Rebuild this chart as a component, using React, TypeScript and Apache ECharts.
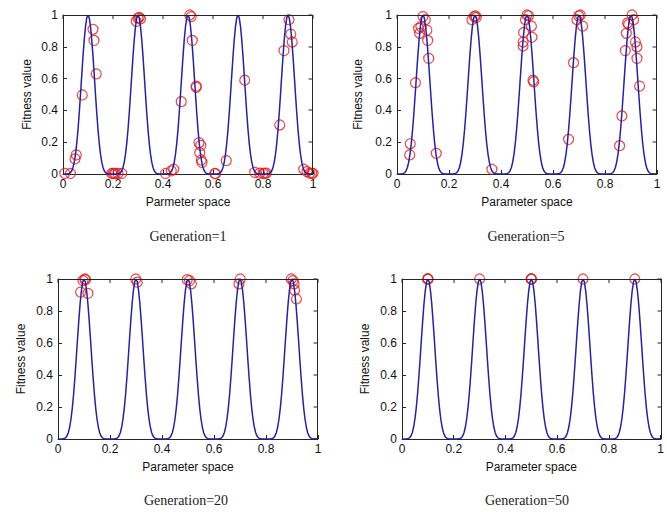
import React, { useEffect, useRef } from "react";
import * as echarts from "echarts";

// Half-peak profile of the fitness curve, x = 0, 0.005, ..., 0.1 (read from the peaks)
const HALF_PEAK = [
  0, 0, 0.00001, 0.00016, 0.00087, 0.0031, 0.0088, 0.0203, 0.0412, 0.075, 0.125,
  0.193, 0.280, 0.384, 0.500, 0.622, 0.740, 0.845, 0.928, 0.982, 1,
];
const PEAK_STARTS = [0, 0.2, 0.4, 0.6, 0.8];
const STEP = 0.005;

const TITLES = ["Generation=1", "Generation=5", "Generation=20", "Generation=50"];
const X_NAMES = ["Parmeter space", "Parameter space", "Parameter space", "Parameter space"];
const Y_NAME = "Fitness value";
const TICKS = [0, 0.2, 0.4, 0.6, 0.8, 1];

// population positions [x, fitness]
const GEN1: number[][] = [
  [0.007, 0.004], [0.03, 0.003], [0.053, 0.12], [0.048, 0.095], [0.077, 0.497],
  [0.12, 0.91], [0.124, 0.84], [0.133, 0.63],
  [0.195, 0.003], [0.2, 0.003], [0.205, 0.003], [0.21, 0.003], [0.22, 0.003], [0.235, 0.003],
  [0.293, 0.96], [0.3, 0.98], [0.305, 0.985], [0.31, 0.975],
  [0.41, 0.003], [0.433, 0.02], [0.443, 0.03], [0.473, 0.455],
  [0.507, 1.0], [0.513, 0.99], [0.517, 0.84], [0.533, 0.553], [0.533, 0.545],
  [0.544, 0.197], [0.551, 0.18], [0.547, 0.134], [0.553, 0.088], [0.556, 0.073],
  [0.607, 0.003], [0.61, 0.002], [0.653, 0.084], [0.727, 0.59],
  [0.767, 0.01], [0.787, 0.005], [0.8, 0.003], [0.807, 0.004], [0.813, 0.006],
  [0.867, 0.308], [0.884, 0.776], [0.904, 0.97], [0.911, 0.88], [0.917, 0.83],
  [0.963, 0.03], [0.976, 0.015], [0.987, 0.005], [0.995, 0.004], [1.0, 0.004],
];
const GEN5: number[][] = [
  [0.049, 0.12], [0.051, 0.19], [0.071, 0.574], [0.087, 0.885], [0.083, 0.916], [0.092, 0.927],
  [0.1, 0.99], [0.109, 0.97], [0.115, 0.905], [0.118, 0.84], [0.122, 0.727], [0.151, 0.13],
  [0.288, 0.97], [0.297, 0.99], [0.305, 0.985], [0.301, 0.995], [0.365, 0.03],
  [0.485, 0.805], [0.485, 0.83], [0.487, 0.89], [0.494, 0.97], [0.5, 1.0], [0.506, 0.995],
  [0.517, 0.93], [0.519, 0.86], [0.523, 0.59], [0.526, 0.58],
  [0.66, 0.218], [0.679, 0.7], [0.692, 0.97], [0.699, 0.994], [0.705, 1.0], [0.714, 0.93],
  [0.856, 0.178], [0.865, 0.365], [0.878, 0.776], [0.882, 0.885], [0.887, 0.95], [0.891, 0.94],
  [0.904, 1.0], [0.91, 0.97], [0.917, 0.83], [0.923, 0.8], [0.923, 0.727], [0.933, 0.553],
];
const GEN20: number[][] = [
  [0.087, 0.918], [0.096, 0.99], [0.103, 1.0], [0.106, 0.996], [0.115, 0.91],
  [0.299, 1.0], [0.305, 0.98],
  [0.497, 0.996], [0.506, 0.99], [0.513, 0.97],
  [0.696, 0.97], [0.701, 1.0],
  [0.897, 1.0], [0.904, 0.99], [0.908, 0.97], [0.91, 0.93], [0.917, 0.875],
];
const GEN50: number[][] = [
  [0.099, 1.0], [0.1, 1.0], [0.101, 1.0], [0.3, 1.0],
  [0.499, 1.0], [0.5, 1.0], [0.501, 1.0], [0.7, 1.0], [0.9, 1.0],
];
const POPULATIONS = [GEN1, GEN5, GEN20, GEN50];

const GRIDS = [
  { left: 63, top: 15, width: 250, height: 159 },
  { left: 397, top: 15, width: 260, height: 159 },
  { left: 58, top: 279, width: 260, height: 160 },
  { left: 402, top: 279, width: 260, height: 160 },
];
const Y_NAME_GAPS = [30, 33, 31, 31];
const TITLE_POS = [
  [188, 236],
  [526, 236],
  [186, 500],
  [527, 500],
];

function buildCurve(): number[][] {
  const pts: number[][] = [];
  PEAK_STARTS.forEach((start, k) => {
    const n = HALF_PEAK.length - 1;
    for (let i = k === 0 ? 0 : 1; i <= 2 * n; i++) {
      const y = i <= n ? HALF_PEAK[i] : HALF_PEAK[2 * n - i];
      pts.push([+(start + i * STEP).toFixed(4), y]);
    }
  });
  return pts;
}

const FONT = "Liberation Sans, Arial, sans-serif";
const AXIS_COLOR = "#262626";

export default function App() {
  const ref = useRef<HTMLDivElement>(null);
  useEffect(() => {
    if (!ref.current) return;
    const chart = echarts.init(ref.current, undefined, { renderer: "svg" });
    const curve = buildCurve();
    const xAxis: any[] = [];
    const yAxis: any[] = [];
    const series: any[] = [];
    GRIDS.forEach((g, i) => {
      const common = () => ({
        type: "value",
        min: 0,
        max: 1,
        interval: 0.2,
        gridIndex: i,
        splitLine: { show: false },
        axisLine: { show: true, onZero: false, lineStyle: { color: AXIS_COLOR, width: 1 } },
        axisTick: { show: true, inside: true, length: 4, lineStyle: { color: AXIS_COLOR } },
      });
      xAxis.push({
        ...common(),
        position: "bottom",
        axisLabel: { color: "#111", fontSize: 12, fontFamily: FONT, margin: 4 },
        name: X_NAMES[i],
        nameLocation: "middle",
        nameGap: 22,
        nameTextStyle: { color: "#111", fontSize: 12, fontFamily: FONT },
      });
      yAxis.push({
        ...common(),
        position: "left",
        axisLabel: { color: "#111", fontSize: 12, fontFamily: FONT, margin: 5 },
        name: Y_NAME,
        nameLocation: "middle",
        nameGap: Y_NAME_GAPS[i],
        nameTextStyle: { color: "#111", fontSize: 12, fontFamily: FONT },
      });
      series.push({
        type: "line",
        xAxisIndex: i,
        yAxisIndex: i,
        data: curve,
        showSymbol: false,
        symbol: "none",
        lineStyle: { color: "#2222aa", width: 1.5 },
        silent: true,
      });
      series.push({
        type: "scatter",
        xAxisIndex: i,
        yAxisIndex: i,
        data: POPULATIONS[i],
        symbol: "circle",
        symbolSize: 10,
        clip: false,
        itemStyle: { color: "rgba(0,0,0,0)", borderColor: "#e41c1c", borderWidth: 1.2 },
      });
    });
    chart.setOption({
      animation: false,
      backgroundColor: "#ffffff",
      grid: GRIDS.map((g) => ({ ...g, containLabel: false })),
      xAxis,
      yAxis,
      series,
    });
    // box frame (top and right edges with inward ticks), and titles
    const graphics: any[] = [];
    GRIDS.forEach((g, i) => {
      const top = Math.round(g.top) + 0.5;
      const right = Math.round(g.left + g.width) - 0.5;
      const bottom = g.top + g.height;
      graphics.push({
        type: "rect",
        silent: true,
        z: 100,
        shape: { x: g.left, y: top - 0.5, width: g.width, height: 1 },
        style: { fill: AXIS_COLOR },
      });
      graphics.push({
        type: "rect",
        silent: true,
        z: 100,
        shape: { x: right - 0.5, y: g.top, width: 1, height: g.height },
        style: { fill: AXIS_COLOR },
      });
      TICKS.forEach((t) => {
        let px: any = null;
        try {
          px = chart.convertToPixel({ seriesIndex: 2 * i } as any, [t, t]);
        } catch (e) {
          px = null;
        }
        const tx = px && isFinite(px[0]) ? px[0] : g.left + t * g.width;
        const ty = px && isFinite(px[1]) ? px[1] : bottom - t * g.height;
        graphics.push({
          type: "rect",
          silent: true,
          z: 100,
          shape: { x: Math.round(tx) - 0.5, y: g.top, width: 1, height: 4 },
          style: { fill: AXIS_COLOR },
        });
        graphics.push({
          type: "rect",
          silent: true,
          z: 100,
          shape: { x: right - 4, y: Math.round(ty) - 0.5, width: 4, height: 1 },
          style: { fill: AXIS_COLOR },
        });
      });
    });
    TITLES.forEach((t, i) => {
      graphics.push({
        type: "text",
        x: TITLE_POS[i][0],
        y: TITLE_POS[i][1],
        style: {
          text: t,
          fill: "#1c1c24",
          font: '14px "Liberation Serif", "Times New Roman", serif',
          textAlign: "center",
          textVerticalAlign: "middle",
        },
      });
    });
    chart.setOption({ graphic: graphics });
    return () => chart.dispose();
  }, []);
  return (
    <div
      ref={ref}
      style={{ position: "fixed", left: 0, top: 0, width: 667, height: 512 }}
    />
  );
}
